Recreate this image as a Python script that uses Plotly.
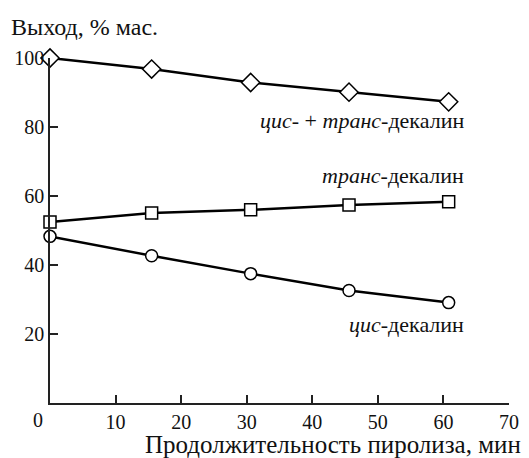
import plotly.graph_objects as go

# Data
time_min = [0, 15.5, 30.6, 45.6, 60.8]
total_decalin = [100.0, 96.8, 92.9, 90.1, 87.3]
trans_decalin = [52.5, 55.1, 56.0, 57.4, 58.3]
cis_decalin = [48.3, 42.7, 37.5, 32.6, 29.1]

x_ticks = [0, 10, 20, 30, 40, 50, 60, 70]
x_tick_text = ["", "10", "20", "30", "40", "50", "60", "70"]
y_ticks = [20, 40, 60, 80, 100]

FONT = "Liberation Serif"

fig = go.Figure()

def add_series(y, symbol, size):
    fig.add_trace(go.Scatter(
        x=time_min, y=y, mode="lines+markers",
        line=dict(color="black", width=2.5),
        marker=dict(symbol=symbol, size=size, color="white",
                    line=dict(color="black", width=1.5)),
        cliponaxis=False, showlegend=False,
    ))

add_series(total_decalin, "diamond", 14)
add_series(trans_decalin, "square", 12)
add_series(cis_decalin, "circle", 12)

# page body has an 8px margin, so the figure is sized 8px smaller
fig.update_layout(
    width=521, height=450,
    margin=dict(l=42, r=20, t=50, b=55),
    paper_bgcolor="white", plot_bgcolor="white",
    font=dict(family=FONT, size=20, color="#111"),
    xaxis=dict(range=[0, 70], tickvals=x_ticks, ticktext=x_tick_text,
               ticks="inside", ticklen=8, tickwidth=1.5, tickcolor="#222",
               showline=True, linecolor="#222", linewidth=1.5,
               showgrid=False, zeroline=False, automargin=False),
    yaxis=dict(range=[0, 100], tickvals=y_ticks,
               ticks="inside", ticklen=8, tickwidth=1.5, tickcolor="#222",
               showline=True, linecolor="#222", linewidth=1.5,
               showgrid=False, zeroline=False, automargin=False),
    annotations=[
        dict(text="Выход, % мас.", xref="paper", yref="paper",
             x=-0.0895, y=1.09, xanchor="left", yanchor="middle",
             showarrow=False, font=dict(size=24)),
        dict(text="Продолжительность пиролиза, мин", xref="paper", yref="paper",
             x=1.03, y=-0.121, xanchor="right", yanchor="middle",
             showarrow=False, font=dict(size=25)),
        dict(text="0", xref="x", yref="paper", x=0, y=0, xshift=-12, yshift=-4,
             xanchor="center", yanchor="top", showarrow=False,
             font=dict(size=20)),
        dict(text="<i>цис</i>- + <i>транс</i>-декалин", x=63.4, y=82.0,
             xanchor="right", yanchor="middle", showarrow=False,
             font=dict(size=22)),
        dict(text="<i>транс</i>-декалин", x=63.4, y=65.8,
             xanchor="right", yanchor="middle", showarrow=False,
             font=dict(size=22)),
        dict(text="<i>цис</i>-декалин", x=63.4, y=22.8,
             xanchor="right", yanchor="middle", showarrow=False,
             font=dict(size=22)),
    ],
)

fig.write_html("out.html")
